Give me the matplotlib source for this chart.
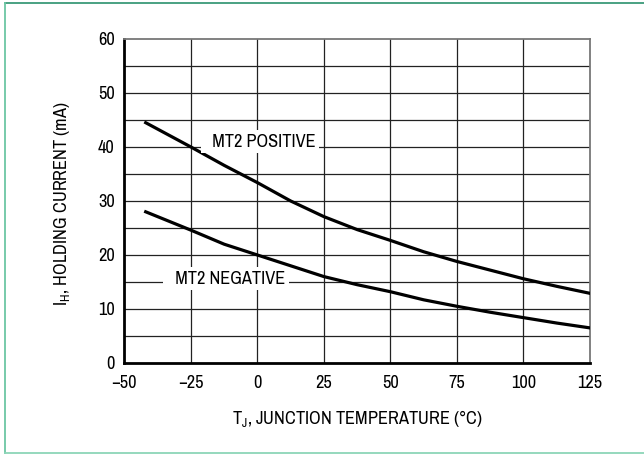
import matplotlib
matplotlib.use("Agg")
import matplotlib.pyplot as plt
from matplotlib.lines import Line2D

# ---- data ----
temp_pos = [-42, -25, -12.5, 0, 12.5, 25, 37.5, 50, 62.5, 75, 87.5, 100, 112.5, 125]
mt2_positive = [44.5, 40.0, 36.6, 33.4, 30.0, 27.1, 24.7, 22.7, 20.6, 18.8, 17.2, 15.6, 14.2, 12.9]
temp_neg = [-42, -25, -12.5, 0, 12.5, 25, 37.5, 50, 62.5, 75, 87.5, 100, 112.5, 125]
mt2_negative = [28.0, 24.6, 22.0, 20.0, 18.0, 16.0, 14.5, 13.2, 11.7, 10.5, 9.4, 8.4, 7.4, 6.5]
x_ticks = [-50, -25, 0, 25, 50, 75, 100, 125]
x_tick_labels = ["\u221250", "\u221225", "0", "25", "50", "75", "100", "125"]
y_ticks = [0, 10, 20, 30, 40, 50, 60]
y_tick_labels = ["0", "10", "20", "30", "40", "50", "60"]

fam = "Archivo Narrow"
plt.rcParams["font.family"] = [fam, "Liberation Sans", "DejaVu Sans"]
plt.rcParams["mathtext.fontset"] = "custom"
plt.rcParams["mathtext.rm"] = fam
plt.rcParams["mathtext.it"] = fam
FS = 13.2

fig = plt.figure(figsize=(6.44, 4.55), dpi=100)
ax = fig.add_axes([0.1932, 0.2022, 0.7229, 0.7121])

ax.set_xlim(-50, 125)
ax.set_ylim(0, 60)

for xv in range(-25, 125, 25):
    ax.axvline(xv, color="#222222", lw=0.9, zorder=1)
for yv in range(5, 60, 5):
    ax.axhline(yv, color="#222222", lw=0.9, zorder=1)

ax.plot(temp_pos, mt2_positive, color="black", lw=2.3, zorder=3)
ax.plot(temp_neg, mt2_negative, color="black", lw=2.3, zorder=3)

ax.text(22.0, 41.0, "  MT2 POSITIVE", fontsize=FS, ha="right", va="center", zorder=4,
        bbox=dict(facecolor="white", edgecolor="none", pad=2.5))
ax.text(10.4, 15.6, "  MT2 NEGATIVE", fontsize=FS, ha="right", va="center", zorder=4,
        bbox=dict(facecolor="white", edgecolor="none", pad=2.5))

ax.set_xticks(x_ticks)
ax.set_xticklabels(x_tick_labels)
ax.set_yticks(y_ticks)
ax.set_yticklabels(y_tick_labels)
ax.tick_params(length=0, labelsize=FS, pad=7)
ax.tick_params(axis="x", pad=9)

for s in ["left", "bottom"]:
    ax.spines[s].set_linewidth(2.0)
    ax.spines[s].set_color("black")
for s in ["top", "right"]:
    ax.spines[s].set_linewidth(1.3)
    ax.spines[s].set_color("#777777")

ax.set_xlabel("$\\mathregular{T_J}$, JUNCTION TEMPERATURE (\u00b0C)", fontsize=FS)
ax.xaxis.label.set_va("center")
ax.xaxis.set_label_coords(0.5, -0.170)
ax.set_ylabel(r"$\mathregular{I_H}$, HOLDING CURRENT (mA)", fontsize=FS)
ax.yaxis.label.set_va("center")
ax.yaxis.label.set_ha("center")
ax.yaxis.set_label_coords(-0.134, 0.491)

fig.add_artist(Line2D([5/644, 1.0], [1-3/455, 1-3/455], transform=fig.transFigure,
                      color="#3a9a78", lw=1.3))
fig.add_artist(Line2D([5/644, 5/644], [1-3/455, 1-453/455], transform=fig.transFigure,
                      color="#6cc6a4", lw=1.3))
fig.add_artist(Line2D([5/644, 1.0], [1-453/455, 1-453/455], transform=fig.transFigure,
                      color="#8cd6b8", lw=1.3))

fig.savefig("out.png", dpi=100)
